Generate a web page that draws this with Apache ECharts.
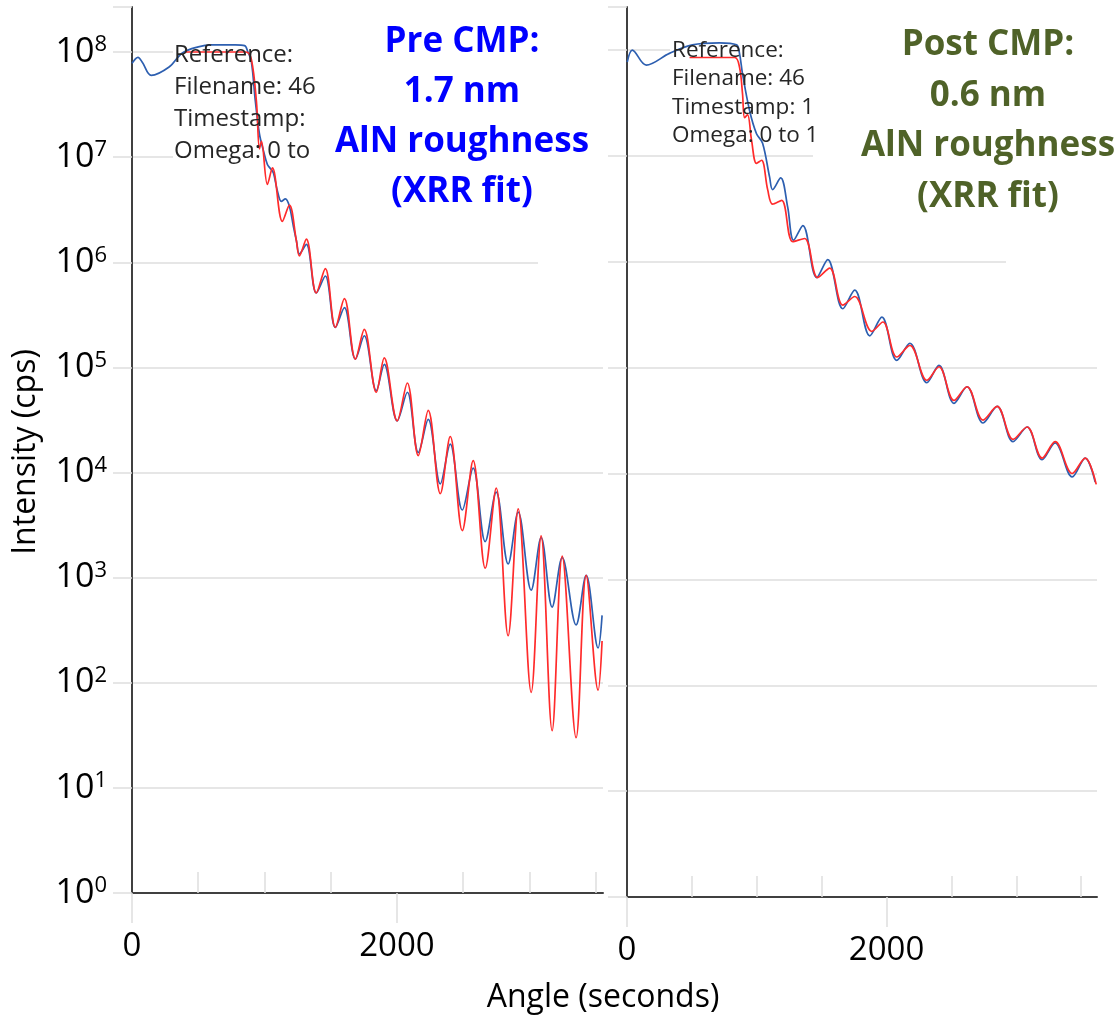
<!DOCTYPE html>
<html><head><meta charset="utf-8">
<script src="https://cdn.jsdelivr.net/npm/echarts@6/dist/echarts.min.js"></script>
<style>html,body{margin:0;padding:0;background:#fff}#c{width:1115px;height:1019px}</style>
</head><body><div id="c"></div>
<script>
// ---- data: [angle (seconds), intensity (cps)] ----
const preMeasured = [[0,7.8e7],[45,8.9e7],[80,7.9e7],[145,6.0e7],[280,7.2e7],[380,9.8e7],[500,1.12e8],[600,1.17e8],[780,1.17e8],[850,1.15e8],[875,1.0e8],[901,8.1e7],[931,3.4e7],[962,1.66e7],[992,1.15e7],[1022,8.5e6],[1044,7.8e6],[1067,7.1e6],[1097,4.8e6],[1127,3.8e6],[1158,4.0e6],[1188,3.4e6],[1218,2.2e6],[1241,1.6e6],[1263,1.2e6],[1316,1.48e6],[1391,5.1e5],[1459,7.4e5],[1535,2.4e5],[1603,3.7e5],[1686,1.2e5],[1753,2.0e5],[1844,6.0e4],[1904,1.07e5],[2002,3.1e4],[2078,5.8e4],[2161,1.55e4],[2236,3.2e4],[2327,7.8e3],[2402,1.86e4],[2493,4.4e3],[2575,1.1e4],[2666,2.2e3],[2749,6.5e3],[2839,1.35e3],[2915,4.2e3],[3013,760],[3088,2.4e3],[3171,525],[3247,1.55e3],[3352,355],[3428,1.05e3],[3518,214],[3548,437]];
const preFit = [[400,1.0e8],[600,1.0e8],[860,1.0e8],[901,8.5e7],[939,3.4e7],[962,1.2e7],[977,1.41e7],[1022,5.5e6],[1060,7.9e6],[1135,2.45e6],[1188,3.5e6],[1241,1.6e6],[1263,1.15e6],[1316,1.66e6],[1391,5.1e5],[1459,8.7e5],[1535,2.4e5],[1603,4.5e5],[1686,1.2e5],[1753,2.3e5],[1844,5.8e4],[1904,1.23e5],[2002,3.1e4],[2078,7.1e4],[2161,1.45e4],[2236,3.9e4],[2327,6.3e3],[2402,2.2e4],[2493,2.8e3],[2575,1.3e4],[2666,1.23e3],[2749,7.1e3],[2839,280],[2915,4.5e3],[3013,81],[3088,2.5e3],[3171,35],[3247,1.6e3],[3352,30],[3428,1.05e3],[3518,85],[3548,250]];
const postMeasured = [[2,7.7e7],[41,1.0e8],[149,7.2e7],[327,9.3e7],[504,1.12e8],[713,1.17e8],[844,1.12e8],[867,9.3e7],[890,6.0e7],[944,2.7e7],[998,1.62e7],[1045,1.32e7],[1099,6.3e6],[1122,4.8e6],[1184,6.2e6],[1238,3.3e6],[1284,1.6e6],[1355,2.2e6],[1462,7.1e5],[1547,1.05e6],[1663,3.6e5],[1755,5.4e5],[1871,2.0e5],[1964,3.0e5],[2079,1.17e5],[2180,1.7e5],[2311,7.2e4],[2404,1.05e5],[2520,4.6e4],[2620,6.6e4],[2744,3.0e4],[2852,4.3e4],[2975,2.0e4],[3083,2.75e4],[3199,1.35e4],[3299,1.95e4],[3431,9.3e3],[3531,1.4e4],[3608,8.3e3]];
const postFit = [[482,8.5e7],[830,8.5e7],[867,6.9e7],[890,3.9e7],[906,2.3e7],[929,2.45e7],[960,1.4e7],[998,8.5e6],[1037,9.1e6],[1084,4.8e6],[1122,3.5e6],[1192,3.8e6],[1277,1.55e6],[1369,1.66e6],[1469,7.1e5],[1562,8.7e5],[1663,3.9e5],[1755,4.7e5],[1887,2.2e5],[1972,2.7e5],[2079,1.26e5],[2180,1.62e5],[2311,7.6e4],[2404,1.02e5],[2520,4.9e4],[2620,6.6e4],[2744,3.2e4],[2852,4.3e4],[2975,2.1e4],[3083,2.75e4],[3199,1.4e4],[3299,2.0e4],[3431,1.0e4],[3531,1.4e4],[3616,7.9e3]];
const xLabelValues = [0, 2000];
const xMinorValues = [500, 1000, 1500, 2500, 3000, 3500];
const preTitle = ['Pre CMP:', '1.7 nm', 'AlN roughness', '(XRR fit)'];
const postTitle = ['Post CMP:', '0.6 nm', 'AlN roughness', '(XRR fit)'];
const leftInfo = ['Reference:', 'Filename: 46', 'Timestamp:', 'Omega: 0 to'];
const rightInfo = ['Reference:', 'Filename: 46', 'Timestamp: 1', 'Omega: 0 to 1'];
const yTitle = 'Intensity (cps)';
const xTitle = 'Angle (seconds)';

const FONT = '"Open Sans", "Liberation Sans", sans-serif';
const GRID_C = '#dedede';
const AXIS_C = '#404040';
const BLUE = '#2d5fb0';
const RED = '#ff2b2b';

function yLabel(v) {
  const e = Math.log10(v), r = Math.round(e);
  if (Math.abs(e - r) > 1e-6) return '';
  return '{a|10}{b|' + r + '}';
}
function xLabel(v) { return xLabelValues.indexOf(v) >= 0 ? String(v) : ''; }

function mainX(grid, max) {
  return {
    gridIndex: grid, type: 'value', position: 'bottom', min: 0, max: max, interval: 2000,
    axisLine: { show: true, onZero: false, lineStyle: { color: AXIS_C, width: 2 } },
    axisTick: { show: true, length: 30, customValues: xLabelValues, lineStyle: { color: GRID_C, width: 1.5 } },
    axisLabel: { show: true, customValues: xLabelValues, formatter: xLabel, margin: 37,
      fontFamily: FONT, fontSize: 33, color: '#000' },
    splitLine: { show: true, showMinLine: false, showMaxLine: false, lineStyle: { color: GRID_C, width: 1.5 } }
  };
}
function minorX(grid, max) {
  return {
    gridIndex: grid, type: 'value', position: 'bottom', min: 0, max: max, interval: 500,
    axisLine: { show: false, onZero: false },
    axisTick: { show: true, inside: true, length: 21, customValues: xMinorValues, lineStyle: { color: GRID_C, width: 1.5 } },
    axisLabel: { show: false }, splitLine: { show: false }
  };
}
function logY(grid, max, labels) {
  return {
    gridIndex: grid, type: 'log', logBase: 10, min: 1, max: max,
    axisLine: { show: true, onZero: false, lineStyle: { color: AXIS_C, width: 2 } },
    axisTick: { show: true, length: 19, lineStyle: { color: GRID_C, width: 1.5 } },
    axisLabel: labels ? {
      show: true, formatter: yLabel, margin: 25,
      rich: {
        a: { fontFamily: FONT, fontSize: 34, color: '#000' },
        b: { fontFamily: FONT, fontSize: 22, color: '#000', verticalAlign: 'top', padding: [0, 0, 14, 0] }
      }
    } : { show: false },
    splitLine: { show: true, showMaxLine: false, lineStyle: { color: GRID_C, width: 1.5 } }
  };
}
function line(data, xi, yi, color, z) {
  return { type: 'line', xAxisIndex: xi, yAxisIndex: yi, data: data, showSymbol: false, smooth: 0.35,
    lineStyle: { color: color, width: 1.7 }, itemStyle: { color: color }, z: z, silent: true };
}
function cover(x, y, w, h) {
  return { type: 'rect', shape: { x: x, y: y, width: w, height: h }, style: { fill: '#fff' }, z: 1, silent: true };
}
function txt(x, y, s, style) {
  return { type: 'text', x: x, y: y, z: 10, silent: true, style: Object.assign({ text: s }, style) };
}

const chart = echarts.init(document.getElementById('c'), null, { renderer: 'canvas' });
chart.setOption({
  animation: false,
  backgroundColor: '#fff',
  grid: [
    { left: 132, top: 7, width: 471, height: 886 },
    { left: 627, top: 7, width: 470, height: 890 }
  ],
  xAxis: [mainX(0, 3555), minorX(0, 3555), mainX(1, 3622), minorX(1, 3622)],
  yAxis: [logY(0, 2.68e8, true), logY(1, 2.55e8, false)],
  series: [
    line(preMeasured, 0, 0, BLUE, 2),
    line(preFit, 0, 0, RED, 3),
    line(postMeasured, 2, 1, BLUE, 2),
    line(postFit, 2, 1, RED, 3)
  ],
  graphic: { elements: [
    cover(173, 30, 140, 135),
    cover(313, 0, 295, 228),
    cover(538, 228, 66, 45),
    cover(670, 30, 143, 115),
    cover(813, 0, 302, 229),
    cover(1006, 229, 109, 45),
    txt(174, 39, leftInfo.join('\n'), { font: '24px ' + FONT, fill: '#262626', lineHeight: 32, textVerticalAlign: 'top' }),
    txt(672, 36, rightInfo.join('\n'), { font: '22.5px ' + FONT, fill: '#262626', lineHeight: 28.5, textVerticalAlign: 'top' }),
    txt(462, 117, preTitle.join('\n'), { font: 'bold 35px ' + FONT, fill: '#0000ff', lineHeight: 50, textAlign: 'center', textVerticalAlign: 'middle' }),
    txt(988, 121, postTitle.join('\n'), { font: 'bold 35px ' + FONT, fill: '#4f6228', lineHeight: 50.5, textAlign: 'center', textVerticalAlign: 'middle' }),
    { type: 'text', x: 26, y: 452, rotation: Math.PI / 2, z: 10, silent: true,
      style: { text: yTitle, font: '32px ' + FONT, fill: '#000', textAlign: 'center', textVerticalAlign: 'middle' } },
    txt(603, 998, xTitle, { font: '32px ' + FONT, fill: '#000', textAlign: 'center', textVerticalAlign: 'middle' })
  ] }
});
</script>
</body></html>
